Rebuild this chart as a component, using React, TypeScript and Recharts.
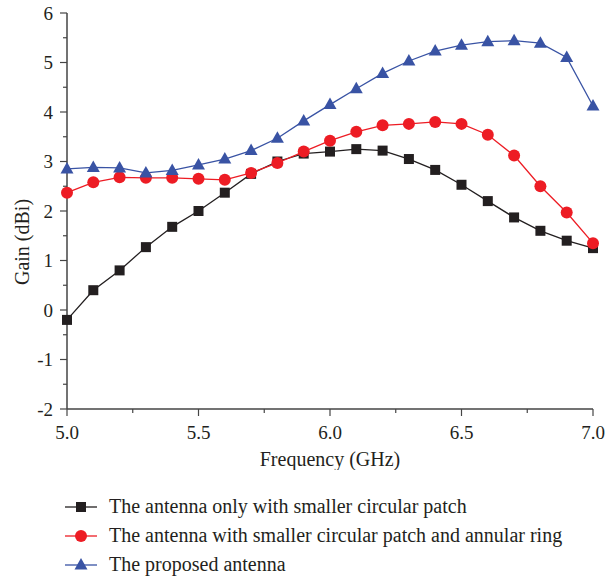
import { Line, LineChart, XAxis, YAxis } from "recharts";

const freqs = [5.0, 5.1, 5.2, 5.3, 5.4, 5.5, 5.6, 5.7, 5.8, 5.9, 6.0, 6.1, 6.2, 6.3, 6.4, 6.5, 6.6, 6.7, 6.8, 6.9, 7.0];
const smallPatch = [-0.2, 0.4, 0.8, 1.27, 1.68, 2.0, 2.37, 2.75, 3.0, 3.16, 3.2, 3.25, 3.22, 3.05, 2.83, 2.53, 2.2, 1.87, 1.6, 1.4, 1.25];
const patchRing = [2.37, 2.58, 2.68, 2.67, 2.67, 2.65, 2.63, 2.77, 2.97, 3.2, 3.42, 3.6, 3.73, 3.76, 3.8, 3.76, 3.54, 3.12, 2.5, 1.97, 1.35];
const proposed = [2.85, 2.88, 2.87, 2.77, 2.82, 2.93, 3.05, 3.22, 3.47, 3.82, 4.15, 4.47, 4.78, 5.03, 5.23, 5.35, 5.42, 5.44, 5.39, 5.1, 4.12];

const xTicks = [5.0, 5.25, 5.5, 5.75, 6.0, 6.25, 6.5, 6.75, 7.0];
const yTicks = [-2, -1.5, -1, -0.5, 0, 0.5, 1, 1.5, 2, 2.5, 3, 3.5, 4, 4.5, 5, 5.5, 6];

const legendLabels = [
  "The antenna only with smaller circular patch",
  "The antenna with smaller circular patch and annular ring",
  "The proposed antenna",
];

const BLACK = "#231f20";
const RED = "#ed1c24";
const BLUE = "#3953a4";
const AXIS = "#454545";
const FONT = "'Liberation Serif', 'Times New Roman', Tinos, 'Noto Serif', 'DejaVu Serif', serif";

const data = freqs.map((f, i) => ({ f, a: smallPatch[i], b: patchRing[i], c: proposed[i] }));

function Marker({ kind, cx, cy, color }: { kind: string; cx: number; cy: number; color: string }) {
  if (kind === "square") return <rect x={cx - 5} y={cy - 5} width={10} height={10} fill={color} />;
  if (kind === "circle") return <circle cx={cx} cy={cy} r={6} fill={color} />;
  return <polygon points={`${cx},${cy - 7} ${cx - 6.5},${cy + 4.5} ${cx + 6.5},${cy + 4.5}`} fill={color} />;
}

const dotFor = (kind: string, color: string) => (props: any) => {
  const { cx, cy, index } = props;
  return <Marker key={`${kind}-${index}`} kind={kind} cx={cx} cy={cy} color={color} />;
};

function YTick(props: any) {
  const { x, y, payload } = props;
  const major = Number.isInteger(payload.value);
  return (
    <g>
      <line x1={x} x2={x - (major ? 7 : 4)} y1={y} y2={y} stroke={AXIS} strokeWidth={1.2} />
      {major && (
        <text x={x - 14} y={y} dy="0.35em" textAnchor="end" style={{ fontFamily: FONT }} fontSize={19} fill={BLACK}>
          {payload.value}
        </text>
      )}
    </g>
  );
}

function XTick(props: any) {
  const { x, y, payload } = props;
  const major = Math.abs(payload.value * 2 - Math.round(payload.value * 2)) < 1e-6;
  return (
    <g>
      <line x1={x} x2={x} y1={y} y2={y + (major ? 7 : 4)} stroke={AXIS} strokeWidth={1.2} />
      {major && (
        <text x={x} y={y + 23} dy="0.35em" textAnchor="middle" style={{ fontFamily: FONT }} fontSize={19} fill={BLACK}>
          {payload.value.toFixed(1)}
        </text>
      )}
    </g>
  );
}

function YLabel(props: any) {
  const { viewBox } = props;
  const cx = viewBox.x + 22;
  const cy = viewBox.y + viewBox.height / 2 + 31;
  return (
    <text x={cx} y={cy} dy="0.35em" transform={`rotate(-90, ${cx}, ${cy})`} textAnchor="middle" style={{ fontFamily: FONT }} fontSize={20} fill={BLACK}>
      Gain (dBi)
    </text>
  );
}

const legendItems = [
  { kind: "square", color: BLACK },
  { kind: "circle", color: RED },
  { kind: "triangle", color: BLUE },
];

export default function App() {
  return (
    <div style={{ position: "absolute", left: 0, top: 0, width: 608, height: 576, background: "#fff", fontFamily: FONT }}>
      <LineChart width={608} height={470} data={data} margin={{ top: 13, right: 15, bottom: 0, left: 0 }} style={{ fontFamily: FONT }}>
        <XAxis
          dataKey="f"
          type="number"
          domain={[5, 7]}
          ticks={xTicks}
          interval={0}
          tickSize={0}
          tickMargin={0}
          tickLine={false}
          tick={<XTick />}
          height={61}
          axisLine={{ stroke: AXIS, strokeWidth: 1.5 }}
          label={{ value: "Frequency (GHz)", position: "insideBottom", offset: 0, dy: -4, style: { fontFamily: FONT }, fontSize: 20, fill: BLACK }}
        />
        <XAxis xAxisId="top" orientation="top" type="number" domain={[5, 7]} allowDataOverflow height={0} tick={false} tickLine={false} axisLine={{ stroke: AXIS, strokeWidth: 1.5 }} />
        <YAxis
          type="number"
          domain={[-2, 6]}
          ticks={yTicks}
          interval={0}
          tickSize={0}
          tickMargin={0}
          tickLine={false}
          tick={<YTick />}
          width={67}
          axisLine={{ stroke: AXIS, strokeWidth: 1.5 }}
          label={{ content: <YLabel /> }}
        />
        <YAxis yAxisId="right" orientation="right" type="number" domain={[-2, 6]} allowDataOverflow width={0} tick={false} tickLine={false} axisLine={{ stroke: AXIS, strokeWidth: 1.5 }} />
        <Line type="linear" dataKey="a" stroke={BLACK} strokeWidth={1.3} dot={dotFor("square", BLACK)} isAnimationActive={false} />
        <Line type="linear" dataKey="b" stroke={RED} strokeWidth={1.3} dot={dotFor("circle", RED)} isAnimationActive={false} />
        <Line type="linear" dataKey="c" stroke={BLUE} strokeWidth={1.3} dot={dotFor("triangle", BLUE)} isAnimationActive={false} />
      </LineChart>
      <div style={{ position: "absolute", left: 65, top: 492, fontSize: 20, color: BLACK }}>
        {legendItems.map((item, i) => (
          <div key={i} style={{ display: "flex", alignItems: "center", height: 29 }}>
            <svg width={32} height={16} style={{ marginRight: 12 }}>
              <line x1={0} x2={32} y1={8} y2={8} stroke={item.color} strokeWidth={1.3} />
              <Marker kind={item.kind} cx={16} cy={8} color={item.color} />
            </svg>
            <span style={{ whiteSpace: "nowrap" }}>{legendLabels[i]}</span>
          </div>
        ))}
      </div>
    </div>
  );
}
